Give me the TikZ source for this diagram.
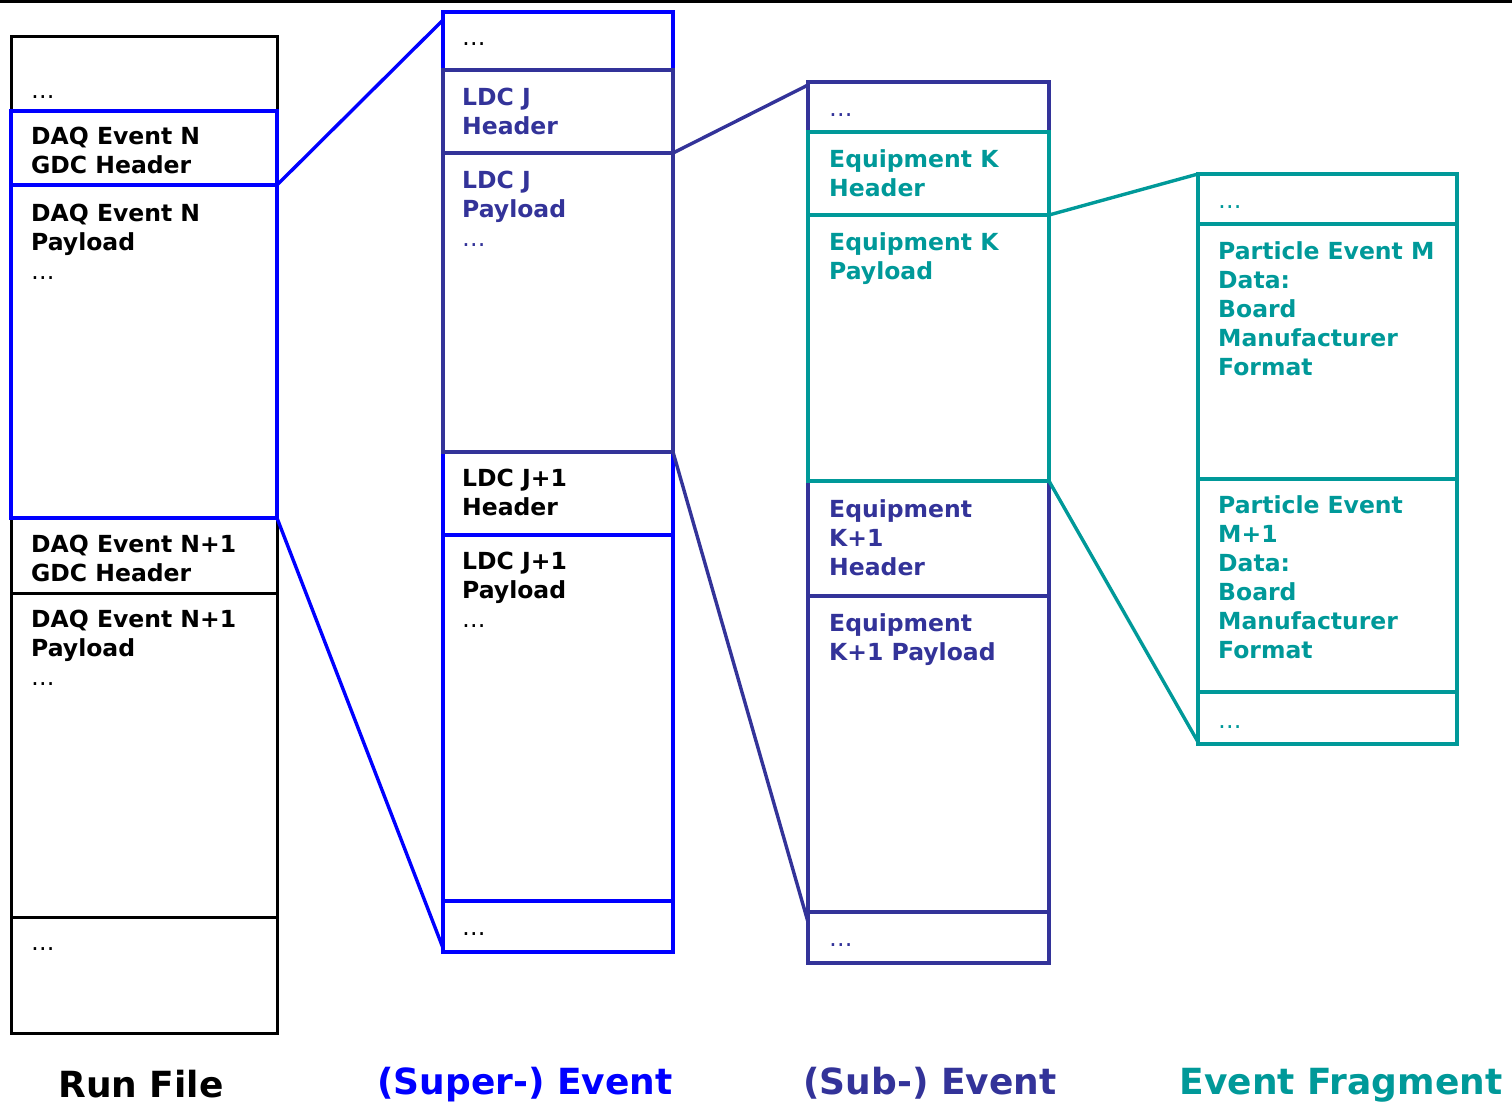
\documentclass[tikz,border=0pt]{standalone}
\usepackage{fontspec}
\setmainfont{DejaVu Sans}
\definecolor{superblue}{RGB}{0,0,255}
\definecolor{subblue}{RGB}{51,51,153}
\definecolor{fragteal}{RGB}{0,153,153}
% left-aligned stack of lines whose baseline is the first line
\newcommand{\cellstack}[1]{\begin{tabular}[t]{@{}l@{}}#1\end{tabular}}
% light ellipsis standing for omitted entries
\newcommand{\omitted}{{\mdseries\dots}}
\begin{document}
\begin{tikzpicture}[x=1pt,y=-1pt,
  lbl/.style={anchor=base west, inner sep=0pt,
    font=\bfseries\fontsize{23.5}{29}\selectfont},
  caption/.style={anchor=base, inner sep=0pt,
    font=\bfseries\fontsize{36}{40}\selectfont},
  thin frame/.style={line width=3pt},
  frame/.style={line width=3.6pt},
  link/.style={line width=3.4pt},
]
\useasboundingbox (0,0) rectangle (1512,1104);
\draw[thin frame] (0,1) -- (1512,1);

% ---------- Run File ----------
\coordinate (rfA) at (11,36);   \coordinate (rfB) at (277,1033);
\draw[thin frame] (rfA) rectangle (rfB);
\draw[thin frame] (11,593) -- (277,593);
\draw[thin frame] (11,917) -- (277,917);
\coordinate (evA) at (11,111);  \coordinate (evB) at (277,518);
\coordinate (gdcL) at (11,185); \coordinate (gdcR) at (277,185);
\draw[superblue,frame] (evA) rectangle (evB);
\draw[superblue,frame] (gdcL) -- (gdcR);

\node[lbl] (rf0) at (31,98) {\omitted};
\node[lbl] (rf1) at (31,144) {\cellstack{DAQ Event N\\GDC Header}};
\node[lbl] (rf2) at (31,221) {\cellstack{DAQ Event N\\Payload\\\omitted}};
\node[lbl] (rf3) at (31,552) {\cellstack{DAQ Event N+1\\GDC Header}};
\node[lbl] (rf4) at (31,627) {\cellstack{DAQ Event N+1\\Payload\\\omitted}};
\node[lbl] (rf5) at (31,950) {\omitted};

% ---------- (Super-) Event ----------
\coordinate (seA) at (443,12);  \coordinate (seB) at (673,952);
\draw[superblue,frame] (seA) rectangle (seB);
\draw[superblue,frame] (443,535) -- (673,535);
\draw[superblue,frame] (443,901) -- (673,901);
\coordinate (ldcA) at (443,70); \coordinate (ldcB) at (673,452);
\coordinate (ldcHL) at (443,153); \coordinate (ldcHR) at (673,153);
\draw[subblue,frame] (ldcA) rectangle (ldcB);
\draw[subblue,frame] (ldcHL) -- (ldcHR);
\coordinate (seTop) at (443,20); \coordinate (seBot) at (443,948);

\node[lbl] (se0) at (462,45) {\omitted};
\node[lbl,text=subblue] (se1) at (462,105) {\cellstack{LDC J\\Header}};
\node[lbl,text=subblue] (se2) at (462,188) {\cellstack{LDC J\\Payload\\\omitted}};
\node[lbl] (se3) at (462,486) {\cellstack{LDC J+1\\Header}};
\node[lbl] (se4) at (462,569) {\cellstack{LDC J+1\\Payload\\\omitted}};
\node[lbl] (se5) at (462,935) {\omitted};

% ---------- (Sub-) Event ----------
\coordinate (sbA) at (808,82);  \coordinate (sbB) at (1049,963);
\draw[subblue,frame] (sbA) rectangle (sbB);
\draw[subblue,frame] (808,596) -- (1049,596);
\draw[subblue,frame] (808,912) -- (1049,912);
\coordinate (eqA) at (808,132); \coordinate (eqB) at (1049,481);
\coordinate (eqHL) at (808,215); \coordinate (eqHR) at (1049,215);
\draw[fragteal,frame] (eqA) rectangle (eqB);
\draw[fragteal,frame] (eqHL) -- (eqHR);
\coordinate (sbTop) at (808,85); \coordinate (sbBot) at (808,922);

\node[lbl,text=subblue] (sb0) at (829,116) {\omitted};
\node[lbl,text=fragteal] (sb1) at (829,167) {\cellstack{Equipment K\\Header}};
\node[lbl,text=fragteal] (sb2) at (829,250) {\cellstack{Equipment K\\Payload}};
\node[lbl,text=subblue] (sb3) at (829,517) {\cellstack{Equipment\\K+1\\Header}};
\node[lbl,text=subblue] (sb4) at (829,631) {\cellstack{Equipment\\K+1 Payload}};
\node[lbl,text=subblue] (sb5) at (829,946) {\omitted};

% ---------- Event Fragment ----------
\coordinate (frA) at (1198,174); \coordinate (frB) at (1457,744);
\draw[fragteal,frame] (frA) rectangle (frB);
\draw[fragteal,frame] (1198,224) -- (1457,224);
\draw[fragteal,frame] (1198,479) -- (1457,479);
\draw[fragteal,frame] (1198,692) -- (1457,692);
\coordinate (frTop) at (1198,174); \coordinate (frBot) at (1198,742);

\node[lbl,text=fragteal] (fr0) at (1218,208) {\omitted};
\node[lbl,text=fragteal] (fr1) at (1218,259)
  {\cellstack{Particle Event M\\Data:\\Board\\Manufacturer\\Format}};
\node[lbl,text=fragteal] (fr2) at (1218,513)
  {\cellstack{Particle Event\\M+1\\Data:\\Board\\Manufacturer\\Format}};
\node[lbl,text=fragteal] (fr3) at (1218,728) {\omitted};

% ---------- zoom connectors ----------
\draw[superblue,link] (gdcR) -- (seTop);
\draw[superblue,link] (evB) -- (seBot);
\draw[subblue,link] (ldcHR) -- (sbTop);
\draw[subblue,link] (ldcB) -- (sbBot);
\draw[fragteal,link] (eqHR) -- (frTop);
\draw[fragteal,link] (eqB) -- (frBot);

% ---------- captions ----------
\node[caption] (capRun) at (141,1097) {Run File};
\node[caption,text=superblue] (capSuper) at (525,1094) {(Super-) Event};
\node[caption,text=subblue] (capSub) at (930,1094) {(Sub-) Event};
\node[caption,text=fragteal] (capFrag) at (1341,1094) {Event Fragment};
\end{tikzpicture}
\end{document}
